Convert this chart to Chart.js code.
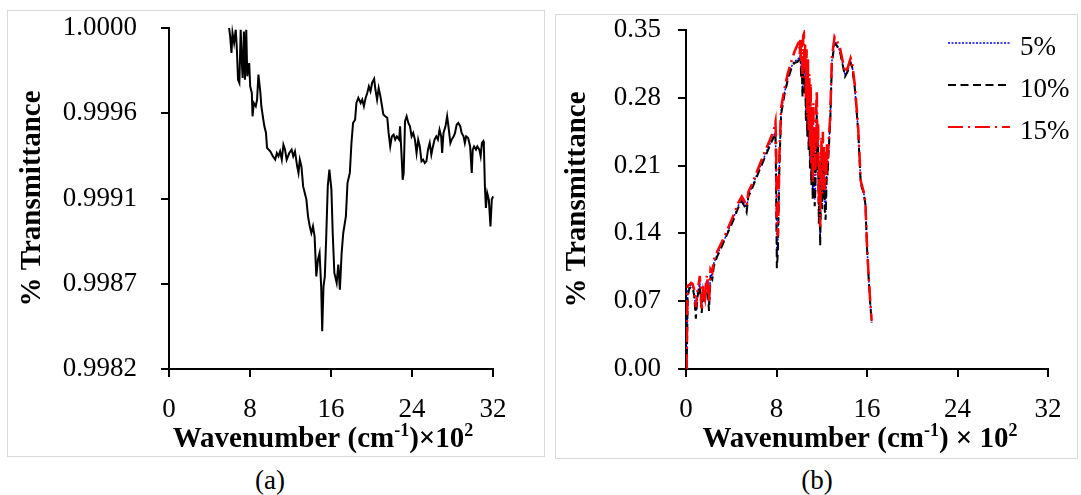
<!DOCTYPE html>
<html>
<head>
<meta charset="utf-8">
<script src="https://cdn.jsdelivr.net/npm/chart.js@4.4.1/dist/chart.umd.min.js"></script>
<style>
    body { margin: 0; background: #fff; width: 1081px; height: 495px; position: relative; overflow: hidden; font-family: "Liberation Serif", serif; }
    .panel { position: absolute; border: 1px solid #d9d9d9; box-sizing: border-box; }
    .panel canvas { position: absolute; left: 0; top: 0; }
    .caption { position: absolute; width: 100px; text-align: center; font-size: 27px; line-height: 30px; top: 465px; color: #000; }
</style>
</head>
<body>
<div class="panel" style="left:7px;top:10px;width:538px;height:447px;">
    <canvas id="chartA" width="536" height="445" style="width:536px;height:445px;"></canvas>
</div>
<div class="panel" style="left:555px;top:14px;width:523px;height:445px;">
    <canvas id="chartB" width="521" height="443" style="width:521px;height:443px;"></canvas>
</div>
<div class="caption" style="left:220px;">(a)</div>
<div class="caption" style="left:767px;">(b)</div>

<script>
// shared axis ticks (wavenumber x 10^2)
const xTicks = [0, 8, 16, 24, 32];

// panel (a) ticks
const yTicksA = [0.9982, 0.99865, 0.9991, 0.99955, 1.0];
const yLabelsA = ['0.9982', '0.9987', '0.9991', '0.9996', '1.0000'];

// panel (b) ticks
const yTicksB = [0, 0.07, 0.14, 0.21, 0.28, 0.35];
const yLabelsB = ['0.00', '0.07', '0.14', '0.21', '0.28', '0.35'];

// panel (a) spectrum
const wavenumberA = [5.94, 6.04, 6.17, 6.27, 6.43, 6.59, 6.69, 6.82, 6.95, 7.08, 7.18, 7.27, 7.40, 7.50, 7.63, 7.73, 7.82, 7.92, 8.02, 8.18,
    8.25, 8.38, 8.57, 8.70, 8.83, 9.03, 9.12, 9.29, 9.42, 9.58, 9.68, 10.00, 10.26, 10.49, 10.65, 10.81, 10.97, 11.14, 11.30, 11.46,
    11.62, 11.88, 12.11, 12.27, 12.44, 12.66, 12.79, 12.92, 13.08, 13.25, 13.41, 13.57, 13.73, 13.90, 14.06, 14.22, 14.38, 14.55, 14.71, 14.87,
    15.03, 15.13, 15.26, 15.39, 15.52, 15.68, 15.84, 16.04, 16.17, 16.33, 16.56, 16.72, 16.88, 17.05, 17.21, 17.47, 17.63, 17.86, 18.02, 18.18,
    18.38, 18.51, 18.70, 18.93, 19.09, 19.25, 19.42, 19.58, 19.74, 19.90, 20.06, 20.26, 20.39, 20.55, 20.71, 20.88, 21.04, 21.17, 21.36, 21.56,
    21.69, 21.85, 22.01, 22.18, 22.34, 22.50, 22.73, 22.82, 22.99, 23.08, 23.18, 23.31, 23.47, 23.64, 23.80, 23.96, 24.12, 24.29, 24.45, 24.61,
    24.77, 24.94, 25.10, 25.26, 25.42, 25.58, 25.75, 25.91, 26.07, 26.23, 26.40, 26.56, 26.72, 26.88, 26.98, 27.11, 27.31, 27.47, 27.60, 27.79,
    27.92, 28.12, 28.25, 28.41, 28.57, 28.77, 28.90, 29.09, 29.22, 29.35, 29.55, 29.74, 29.90, 30.00, 30.13, 30.32, 30.45, 30.65, 30.78, 30.91,
    31.04, 31.10, 31.20, 31.30, 31.43, 31.59, 31.75, 31.88, 32.01, 32.14, 32.34, 32.40];
const transmittanceA = [1.000000, 0.999956, 0.999868, 0.999974, 0.999921, 0.999991, 0.999903, 0.999727, 0.999710, 0.999991,
    0.999833, 0.999736, 0.999982, 0.999727, 0.999991, 0.999745, 0.999780, 0.999815, 0.999692, 0.999657,
    0.999534, 0.999604, 0.999587, 0.999622, 0.999754, 0.999657, 0.999587, 0.999525, 0.999481, 0.999446,
    0.999367, 0.999349, 0.999323, 0.999305, 0.999340, 0.999323, 0.999349, 0.999305, 0.999384, 0.999358,
    0.999305, 0.999340, 0.999358, 0.999323, 0.999349, 0.999270, 0.999235, 0.999305, 0.999270, 0.999164,
    0.999129, 0.999094, 0.999006, 0.998953, 0.998918, 0.998953, 0.998900, 0.998689, 0.998777, 0.998812,
    0.998636, 0.998399, 0.998636, 0.998689, 0.998883, 0.999164, 0.999252, 0.999147, 0.998918, 0.998707,
    0.998654, 0.998751, 0.998619, 0.998812, 0.998918, 0.999006, 0.999182, 0.999235, 0.999393, 0.999499,
    0.999516, 0.999604, 0.999631, 0.999604, 0.999622, 0.999587, 0.999631, 0.999657, 0.999692, 0.999666,
    0.999710, 0.999731, 0.999674, 0.999622, 0.999683, 0.999639, 0.999587, 0.999543, 0.999534, 0.999525,
    0.999446, 0.999375, 0.999428, 0.999437, 0.999411, 0.999428, 0.999411, 0.999481, 0.999305, 0.999199,
    0.999235, 0.999507, 0.999534, 0.999499, 0.999481, 0.999428, 0.999446, 0.999411, 0.999340, 0.999411,
    0.999375, 0.999296, 0.999305, 0.999287, 0.999296, 0.999358, 0.999393, 0.999331, 0.999375, 0.999411,
    0.999428, 0.999411, 0.999463, 0.999428, 0.999340, 0.999446, 0.999481, 0.999534, 0.999481, 0.999393,
    0.999411, 0.999428, 0.999446, 0.999490, 0.999499, 0.999481, 0.999446, 0.999428, 0.999393, 0.999428,
    0.999419, 0.999375, 0.999235, 0.999358, 0.999375, 0.999358, 0.999375, 0.999358, 0.999323, 0.999393,
    0.999402, 0.999375, 0.999164, 0.999050, 0.999129, 0.999094, 0.998953, 0.999094, 0.999111, 0.999287,
    0.999331, 0.999182];

// panel (b) spectra, three loadings on one wavenumber grid
const seriesLabels = ['5%', '10%', '15%'];
const wavenumberB = [0.05, 0.10, 0.15, 0.30, 0.45, 0.58, 0.72, 0.87, 1.01, 1.15,
    1.22, 1.39, 1.51, 1.68, 1.80, 1.88, 2.03, 2.17, 2.32, 2.46,
    2.75, 3.04, 3.48, 4.06, 4.64, 4.93, 5.22, 5.36, 5.51, 5.80,
    6.38, 6.96, 7.54, 7.83, 7.91, 7.97, 8.03, 8.12, 8.26, 8.41,
    8.70, 8.99, 9.28, 9.57, 9.86,
    10.00, 10.06, 10.12, 10.18, 10.24, 10.30, 10.36, 10.42, 10.48, 10.54,
    10.60, 10.66, 10.72, 10.78, 10.84, 10.90, 10.96, 11.02, 11.08, 11.14,
    11.20, 11.26, 11.32, 11.38, 11.44, 11.50, 11.56, 11.62, 11.68, 11.74,
    11.80, 11.86, 11.92, 11.98, 12.04, 12.10, 12.16, 12.22, 12.28, 12.34,
    12.40, 12.46, 12.52, 12.58,
    12.75, 12.90, 13.13, 13.33, 13.62, 13.85, 14.06, 14.29, 14.55, 14.70,
    14.93, 15.22, 15.45, 15.71, 15.86, 16.00, 16.14, 16.29, 16.41];
const trans5 = [0.000, 0.040, 0.080, 0.085, 0.087, 0.086, 0.079, 0.060, 0.078, 0.085,
    0.090, 0.062, 0.083, 0.072, 0.090, 0.092, 0.066, 0.098, 0.096, 0.109,
    0.118, 0.125, 0.136, 0.152, 0.169, 0.175, 0.170, 0.165, 0.180, 0.187,
    0.204, 0.220, 0.236, 0.243, 0.245, 0.200, 0.115, 0.130, 0.216, 0.266,
    0.285, 0.300, 0.311, 0.318, 0.319,
    0.322, 0.320, 0.325, 0.305, 0.318, 0.286, 0.322, 0.315, 0.290, 0.305,
    0.262, 0.305, 0.246, 0.300, 0.230, 0.285, 0.212, 0.276, 0.195, 0.246,
    0.180, 0.250, 0.190, 0.175, 0.190, 0.250, 0.268, 0.210, 0.236, 0.156,
    0.200, 0.135, 0.176, 0.226, 0.170, 0.230, 0.180, 0.210, 0.168, 0.162,
    0.186, 0.216, 0.204, 0.220,
    0.257, 0.318, 0.338, 0.335, 0.328, 0.315, 0.303, 0.308, 0.317, 0.312,
    0.290, 0.246, 0.192, 0.182, 0.171, 0.127, 0.096, 0.068, 0.049];
const trans10 = [0.000, 0.030, 0.075, 0.083, 0.085, 0.084, 0.076, 0.052, 0.074, 0.082,
    0.086, 0.058, 0.080, 0.068, 0.086, 0.088, 0.060, 0.094, 0.092, 0.106,
    0.116, 0.123, 0.135, 0.150, 0.167, 0.173, 0.167, 0.162, 0.178, 0.185,
    0.202, 0.218, 0.234, 0.241, 0.243, 0.180, 0.104, 0.120, 0.210, 0.263,
    0.283, 0.298, 0.309, 0.316, 0.317,
    0.320, 0.318, 0.322, 0.300, 0.315, 0.280, 0.318, 0.310, 0.285, 0.300,
    0.255, 0.300, 0.240, 0.295, 0.225, 0.280, 0.205, 0.270, 0.190, 0.240,
    0.175, 0.245, 0.185, 0.168, 0.185, 0.245, 0.262, 0.205, 0.230, 0.150,
    0.195, 0.127, 0.170, 0.220, 0.165, 0.225, 0.175, 0.205, 0.160, 0.154,
    0.180, 0.212, 0.200, 0.218,
    0.255, 0.316, 0.336, 0.334, 0.327, 0.314, 0.302, 0.307, 0.316, 0.311,
    0.289, 0.245, 0.191, 0.181, 0.170, 0.126, 0.095, 0.067, 0.048];
const trans15 = [0.000, 0.050, 0.086, 0.087, 0.089, 0.088, 0.082, 0.064, 0.080, 0.090,
    0.096, 0.060, 0.086, 0.074, 0.094, 0.097, 0.068, 0.103, 0.100, 0.113,
    0.121, 0.128, 0.139, 0.155, 0.172, 0.178, 0.172, 0.168, 0.183, 0.190,
    0.207, 0.224, 0.240, 0.250, 0.255, 0.230, 0.150, 0.137, 0.222, 0.270,
    0.289, 0.305, 0.316, 0.327, 0.335,
    0.338, 0.325, 0.342, 0.318, 0.340, 0.300, 0.344, 0.346, 0.310, 0.335,
    0.280, 0.330, 0.260, 0.320, 0.245, 0.305, 0.230, 0.295, 0.210, 0.270,
    0.192, 0.275, 0.205, 0.250, 0.200, 0.265, 0.288, 0.230, 0.255, 0.170,
    0.220, 0.147, 0.190, 0.240, 0.180, 0.245, 0.190, 0.230, 0.185, 0.226,
    0.195, 0.232, 0.212, 0.228,
    0.262, 0.322, 0.343, 0.339, 0.331, 0.318, 0.306, 0.311, 0.321, 0.315,
    0.293, 0.249, 0.194, 0.183, 0.172, 0.128, 0.097, 0.069, 0.050];

document.addEventListener('DOMContentLoaded', function () {
    const serif = 'Liberation Serif';
    const tickFont = { family: serif, size: 27 };
    const titleFont = { family: serif, size: 29, weight: 'bold' };

    const toPoints = (xs, ys) => xs.map((x, i) => ({ x: x, y: ys[i] }));

    // x axis title with superscripts, drawn under the axis
    const richTitle = {
        id: 'richTitle',
        afterDraw(chart, args, opts) {
            const ctx = chart.ctx;
            const area = chart.chartArea;
            const mainFont = 'bold 29px "' + serif + '"';
            const supFont = 'bold 18px "' + serif + '"';
            ctx.save();
            ctx.fillStyle = '#000';
            ctx.textBaseline = 'alphabetic';
            let total = 0;
            opts.parts.forEach(p => {
                ctx.font = p.sup ? supFont : mainFont;
                total += ctx.measureText(p.text).width;
            });
            let x = (area.left + area.right) / 2 + opts.dx - total / 2;
            opts.parts.forEach(p => {
                ctx.font = p.sup ? supFont : mainFont;
                ctx.fillText(p.text, x, p.sup ? opts.baseline - 11 : opts.baseline);
                x += ctx.measureText(p.text).width;
            });
            ctx.restore();
        }
    };

    // legend with line samples inside the plot (panel b)
    const lineLegend = {
        id: 'lineLegend',
        afterDraw(chart, args, opts) {
            if (!opts.show) return;
            const ctx = chart.ctx;
            chart.data.datasets.forEach((ds, i) => {
                const y = opts.top + i * opts.rowGap;
                ctx.save();
                ctx.strokeStyle = ds.borderColor;
                ctx.lineWidth = Math.min(ds.borderWidth, 2);
                ctx.setLineDash(ds.borderDash || []);
                ctx.beginPath();
                ctx.moveTo(opts.left, y);
                ctx.lineTo(opts.left + opts.lineLen, y);
                ctx.stroke();
                ctx.setLineDash([]);
                ctx.fillStyle = '#000';
                ctx.font = '27px "' + serif + '"';
                ctx.textBaseline = 'alphabetic';
                ctx.fillText(ds.label, opts.left + opts.lineLen + 10, y + 12);
                ctx.restore();
            });
        }
    };

    function makeScales(o) {
        const axisLine = { drawOnChartArea: false, drawTicks: true, tickLength: 8, color: '#000', lineWidth: 2 };
        return {
            x: {
                type: 'linear',
                min: 0,
                max: 32,
                afterBuildTicks: s => { s.ticks = xTicks.map(v => ({ value: v })); },
                afterFit: s => { s.height = o.xHeight; s.paddingLeft = 0; s.paddingRight = 0; },
                ticks: { font: tickFont, color: '#000', padding: 17, maxRotation: 0, autoSkip: false, callback: v => String(v) },
                grid: axisLine,
                border: { color: '#000', width: 2 }
            },
            y: {
                type: 'linear',
                min: o.yTicks[0],
                max: o.yTicks[o.yTicks.length - 1],
                afterBuildTicks: s => { s.ticks = o.yTicks.map(v => ({ value: v })); },
                // keep the plot box where the layout padding puts it
                afterFit: s => { s.width = o.yWidth; s.paddingTop = 0; s.paddingBottom = 0; },
                ticks: { font: tickFont, color: '#000', padding: o.yPad, autoSkip: false, callback: (v, i) => o.yLabels[i] },
                grid: axisLine,
                border: { color: '#000', width: 2 },
                title: {
                    display: true,
                    text: '% Transmittance',
                    color: '#000',
                    font: titleFont,
                    padding: { top: o.titlePad, bottom: 0 }
                }
            }
        };
    }

    // panel (a)
    new Chart(document.getElementById('chartA').getContext('2d'), {
        type: 'line',
        data: {
            datasets: [{
                label: 'Transmittance',
                data: toPoints(wavenumberA, transmittanceA),
                borderColor: '#000',
                borderWidth: 2,
                pointRadius: 0,
                tension: 0,
                fill: false,
                clip: 12
            }]
        },
        options: {
            responsive: false,
            animation: false,
            events: [],
            layout: { padding: { left: 0, right: 51, top: 17, bottom: 0 } },
            scales: makeScales({ yTicks: yTicksA, yLabels: yLabelsA, yWidth: 161, yPad: 24, xHeight: 87, titlePad: 7 }),
            plugins: {
                legend: { display: false },
                tooltip: { enabled: false },
                richTitle: {
                    dx: -8,
                    baseline: 436,
                    parts: [{ text: 'Wavenumber (cm' }, { text: '-1', sup: true }, { text: ')\u00d710' }, { text: '2', sup: true }]
                },
                lineLegend: { show: false }
            }
        },
        plugins: [richTitle, lineLegend]
    });

    // panel (b): red drawn on top, blue at the bottom
    new Chart(document.getElementById('chartB').getContext('2d'), {
        type: 'line',
        data: {
            datasets: [{
                label: seriesLabels[0],
                data: toPoints(wavenumberB, trans5),
                borderColor: '#0000ff',
                borderWidth: 1.5,
                borderDash: [2, 1.5],
                order: 2
            }, {
                label: seriesLabels[1],
                data: toPoints(wavenumberB, trans10),
                borderColor: '#000000',
                borderWidth: 2,
                borderDash: [8, 4.5],
                order: 1
            }, {
                label: seriesLabels[2],
                data: toPoints(wavenumberB, trans15),
                borderColor: '#ff0000',
                borderWidth: 2.5,
                borderDash: [15, 5, 2, 5],
                order: 0
            }]
        },
        options: {
            responsive: false,
            animation: false,
            events: [],
            elements: { point: { radius: 0 }, line: { tension: 0, fill: false } },
            layout: { padding: { left: 0, right: 29, top: 15, bottom: 0 } },
            scales: makeScales({ yTicks: yTicksB, yLabels: yLabelsB, yWidth: 130, yPad: 17, xHeight: 89, titlePad: 4 }),
            plugins: {
                legend: { display: false },
                tooltip: { enabled: false },
                richTitle: {
                    dx: -7,
                    baseline: 432,
                    parts: [{ text: 'Wavenumber (cm' }, { text: '-1', sup: true }, { text: ') \u00d7 10' }, { text: '2', sup: true }]
                },
                lineLegend: { show: true, left: 392, top: 28, rowGap: 42, lineLen: 62 }
            }
        },
        plugins: [richTitle, lineLegend]
    });
});
</script>
</body>
</html>
